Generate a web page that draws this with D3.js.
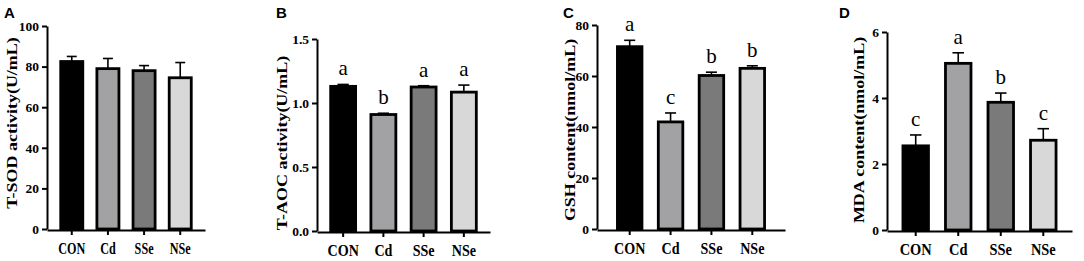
<!DOCTYPE html>
<html>
<head>
<meta charset="utf-8">
<script src="https://cdn.jsdelivr.net/npm/d3@7"></script>
<style>
  body { margin: 0; background: #fff; }
  svg { display: block; }
</style>
</head>
<body>
<div id="chart"></div>
<script>
const categories = ["CON", "Cd", "SSe", "NSe"];
const barColors = ["#000000", "#a2a2a5", "#7a7a7a", "#d8d8d8"];

// A: T-SOD
const tsodMean = [82.5, 79, 78, 74.5];
const tsodErr = [2.5, 5, 2.5, 7.5];
const tsodTicks = [0, 20, 40, 60, 80, 100];

// B: T-AOC
const taocMean = [1.13, 0.91, 1.125, 1.085];
const taocErr = [0.015, 0.01, 0.01, 0.055];
const taocLetters = ["a", "b", "a", "a"];
const taocTicks = [0, 0.5, 1.0, 1.5];

// C: GSH
const gshMean = [71.5, 42, 60.2, 63];
const gshErr = [2.5, 3.5, 1.3, 1.0];
const gshLetters = ["a", "c", "b", "b"];
const gshTicks = [0, 20, 40, 60, 80];

// D: MDA
const mdaMean = [2.55, 5.05, 3.87, 2.72];
const mdaErr = [0.33, 0.32, 0.28, 0.35];
const mdaLetters = ["c", "a", "b", "c"];
const mdaTicks = [0, 2, 4, 6];

const width = 1084, height = 261;
const serif = "'Liberation Serif', 'Times New Roman', serif";

const svg = d3.select("#chart")
    .append("svg")
    .attr("width", width)
    .attr("height", height);

const panels = [
    { tag: "A", tagX: 4, title: "T-SOD activity(U/mL)", mean: tsodMean, err: tsodErr, letters: null,
      ticks: tsodTicks, fmt: d3.format("d"), yMax: 100,
      x0: 47, x1: 205, yTop: 26, yBot: 229, pin: 0.39, pout: 0.38,
      titleX: 17, titleY: 123, labelSx: 0.76 },
    { tag: "B", tagX: 276, title: "T-AOC activity(U/mL)", mean: taocMean, err: taocErr, letters: taocLetters,
      ticks: taocTicks, fmt: d3.format(".1f"), yMax: 1.5,
      x0: 317, x1: 490, yTop: 39, yBot: 231, pin: 0.38, pout: 0.34,
      titleX: 287, titleY: 143, labelSx: 0.88 },
    { tag: "C", tagX: 563, title: "GSH content(nmol/mL)", mean: gshMean, err: gshErr, letters: gshLetters,
      ticks: gshTicks, fmt: d3.format("d"), yMax: 80,
      x0: 597, x1: 785, yTop: 25, yBot: 229, pin: 0.4, pout: 0.5,
      titleX: 575, titleY: 130, labelSx: 0.88 },
    { tag: "D", tagX: 839, title: "MDA content(nmol/mL)", mean: mdaMean, err: mdaErr, letters: mdaLetters,
      ticks: mdaTicks, fmt: d3.format("d"), yMax: 6,
      x0: 887, x1: 1072, yTop: 32, yBot: 230, pin: 0.4, pout: 0.375,
      titleX: 864, titleY: 130, labelSx: 0.9 }
];

panels.forEach(p => {
    const data = categories.map((c, i) => ({ name: c, mean: p.mean[i], err: p.err[i], color: barColors[i],
                                             letter: p.letters ? p.letters[i] : null }));

    const x = d3.scaleBand()
        .domain(categories)
        .range([p.x0, p.x1])
        .paddingInner(p.pin)
        .paddingOuter(p.pout);

    const y = d3.scaleLinear()
        .domain([0, p.yMax])
        .range([p.yBot, p.yTop]);

    const g = svg.append("g");

    // error bars, upper whisker only
    const capW = x.bandwidth() * 0.45;
    const eb = g.append("g")
        .attr("stroke", "#000")
        .attr("stroke-width", 1.6)
        .selectAll("g")
        .data(data)
        .join("g");
    eb.append("line")
        .attr("x1", d => x(d.name) + x.bandwidth() / 2)
        .attr("x2", d => x(d.name) + x.bandwidth() / 2)
        .attr("y1", d => y(d.mean))
        .attr("y2", d => y(d.mean + d.err));
    eb.append("line")
        .attr("x1", d => x(d.name) + x.bandwidth() / 2 - capW / 2)
        .attr("x2", d => x(d.name) + x.bandwidth() / 2 + capW / 2)
        .attr("y1", d => y(d.mean + d.err))
        .attr("y2", d => y(d.mean + d.err));

    // bars
    g.append("g")
        .selectAll("rect")
        .data(data)
        .join("rect")
        .attr("x", d => x(d.name))
        .attr("y", d => y(d.mean))
        .attr("width", x.bandwidth())
        .attr("height", d => y(0) - y(d.mean))
        .attr("fill", d => d.color)
        .attr("stroke", "#000")
        .attr("stroke-width", 2.8);

    // significance letters
    if (p.letters) {
        g.append("g")
            .selectAll("text")
            .data(data)
            .join("text")
            .attr("x", d => x(d.name) + x.bandwidth() / 2)
            .attr("y", d => y(d.mean + d.err) - 9)
            .attr("text-anchor", "middle")
            .style("font-family", serif)
            .style("font-size", "21px")
            .text(d => d.letter);
    }

    // y axis
    const yAxis = g.append("g")
        .attr("transform", `translate(${p.x0},0)`)
        .call(d3.axisLeft(y).tickValues(p.ticks).tickFormat(p.fmt).tickSize(5).tickSizeOuter(0).tickPadding(3));
    yAxis.attr("font-family", null).attr("font-size", null);
    yAxis.select(".domain").attr("stroke-width", 2);
    yAxis.selectAll(".tick line").attr("stroke-width", 2);
    yAxis.selectAll(".tick text")
        .style("font-family", serif)
        .style("font-weight", "bold")
        .style("font-size", "13.5px")
        .attr("fill", "#000");

    // x axis
    const xAxis = g.append("g")
        .attr("transform", `translate(0,${p.yBot + 1})`)
        .call(d3.axisBottom(x).tickSize(5).tickSizeOuter(0).tickPadding(5));
    xAxis.attr("font-family", null).attr("font-size", null);
    xAxis.select(".domain").attr("stroke-width", 2);
    xAxis.selectAll(".tick line").attr("stroke-width", 2);
    xAxis.selectAll(".tick text")
        .style("font-family", serif)
        .style("font-weight", "bold")
        .style("font-size", "16px")
        .attr("fill", "#000")
        .attr("dy", "0.9em")
        .attr("transform", `scale(${p.labelSx},1)`);

    // y title
    g.append("text")
        .attr("transform", `translate(${p.titleX},${p.titleY}) rotate(-90) scale(1,0.86)`)
        .attr("text-anchor", "middle")
        .style("font-family", serif)
        .style("font-weight", "bold")
        .style("font-size", "18px")
        .text(p.title);

    // panel tag
    g.append("text")
        .attr("x", p.tagX)
        .attr("y", 18)
        .style("font-family", "'Liberation Sans', Arial, sans-serif")
        .style("font-weight", "bold")
        .style("font-size", "15px")
        .text(p.tag);
});
</script>
</body>
</html>
